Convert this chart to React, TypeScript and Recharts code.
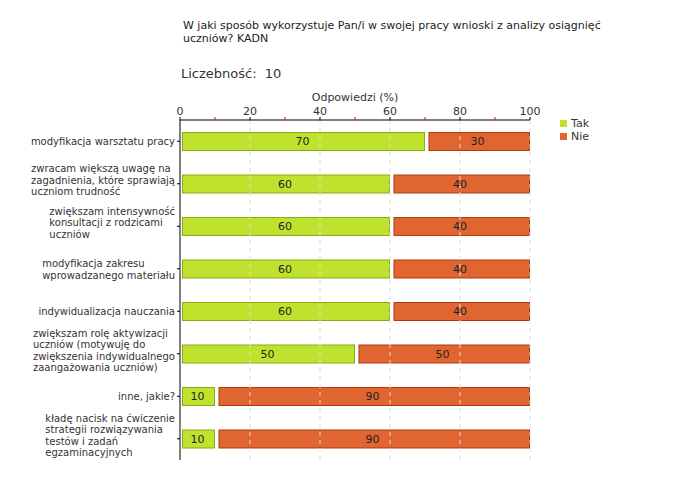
import React from 'react';
import { BarChart, Bar, XAxis, YAxis, ReferenceLine, LabelList, Legend } from 'recharts';

const categories = [
  'modyfikacja warsztatu pracy',
  'zwracam większą uwagę na\nzagadnienia, które sprawiają\nuczniom trudność',
  'zwiększam intensywność\nkonsultacji z rodzicami\nuczniów',
  'modyfikacja zakresu\nwprowadzanego materiału',
  'indywidualizacja nauczania',
  'zwiększam rolę aktywizacji\nuczniów (motywuję do\nzwiększenia indywidualnego\nzaangażowania uczniów)',
  'inne, jakie?',
  'kładę nacisk na ćwiczenie\nstrategii rozwiązywania\ntestów i zadań\negzaminacyjnych',
];
const takValues = [70, 60, 60, 60, 60, 50, 10, 10];
const nieValues = [30, 40, 40, 40, 40, 50, 90, 90];
const xTicks = [0, 10, 20, 30, 40, 50, 60, 70, 80, 90, 100];
const gridTicks = [20, 40, 60, 80, 100];

const FONT = '"DejaVu Sans", Verdana, sans-serif';
const TAK = '#bfe22f';
const TAK_BORDER = '#8aab17';
const NIE = '#e06531';
const NIE_BORDER = '#b03a0c';

const data = categories.map((name, i) => ({ name, tak: takValues[i], nie: nieValues[i] }));

let ctx: CanvasRenderingContext2D | null = null;
const measure = (s: string) => {
  if (!ctx) {
    ctx = document.createElement('canvas').getContext('2d');
    if (ctx) ctx.font = `10px ${FONT}`;
  }
  return ctx ? ctx.measureText(s).width : s.length * 5.5;
};

const CategoryTick = (props: any) => {
  const { x, y, payload } = props;
  const lines = String(payload.value).split('\n');
  const w = Math.max(...lines.map(measure));
  const lh = 11.5;
  const shift = lines.length >= 3 ? -4 : 0;
  const y0 = y - ((lines.length - 1) * lh) / 2 + shift;
  return (
    <text x={x - w} y={y0} fill="#333" fontSize={10} fontFamily={FONT} dominantBaseline="central">
      {lines.map((l, i) => (
        <tspan key={i} x={x - w} y={y0 + i * lh}>{l}</tspan>
      ))}
    </text>
  );
};

const PercentTick = (props: any) => {
  const { x, y, payload } = props;
  const major = payload.value % 20 === 0;
  return (
    <g>
      <line x1={x} x2={x} y1={y - 3} y2={y} stroke={major ? '#000' : '#d00'} />
      {major && (
        <text x={x} y={y - 5} textAnchor="middle" fill="#333" fontSize={11} fontFamily={FONT}>
          {payload.value}
        </text>
      )}
    </g>
  );
};

const TakShape = (p: any) => (
  <rect x={p.x + 2.5} y={p.y + 0.5} width={Math.max(p.width - 3, 0)} height={p.height - 1}
    fill={TAK} stroke={TAK_BORDER} />
);
const NieShape = (p: any) => (
  <rect x={p.x + 4} y={p.y + 0.5} width={Math.max(p.width - 4.5, 0)} height={p.height - 1}
    fill={NIE} stroke={NIE_BORDER} />
);

const LegendBox = () => (
  <div style={{ fontFamily: FONT, fontSize: 11, color: '#333', lineHeight: '13px' }}>
    {[['Tak', TAK], ['Nie', NIE]].map(([n, c]) => (
      <div key={n} style={{ display: 'flex', alignItems: 'center' }}>
        <span style={{ width: 7, height: 7, background: c, marginRight: 4, display: 'inline-block' }} />
        {n}
      </div>
    ))}
  </div>
);

export default function App() {
  return (
    <div style={{ position: 'absolute', left: 0, top: 0, width: 680, height: 480, background: '#fff' }}>
      <div style={{ position: 'absolute', left: 183, top: 19, fontFamily: FONT, fontSize: 11, color: '#222', lineHeight: '13px' }}>
        W jaki sposób wykorzystuje Pan/i w swojej pracy wnioski z analizy osiągnięć<br />uczniów? KADN
      </div>
      <div style={{ position: 'absolute', left: 181, top: 66, fontFamily: FONT, fontSize: 13, color: '#333' }}>
        Liczebność:&nbsp; 10
      </div>
      <BarChart
        width={680}
        height={480}
        data={data}
        layout="vertical"
        barSize={19}
        margin={{ top: 90, right: 90, bottom: 20, left: 3 }}
      >
        <XAxis
          type="number"
          orientation="top"
          domain={[0, 100]}
          ticks={xTicks}
          interval={0}
          height={30}
          tickSize={0}
          tickMargin={0}
          tick={<PercentTick />}
          axisLine={{ stroke: '#000' }}
          label={{ value: 'Odpowiedzi (%)', position: 'insideTop', offset: 3, fill: '#333', fontSize: 11, fontFamily: FONT }}
        />
        <YAxis
          type="category"
          dataKey="name"
          width={177}
          tickSize={3}
          tickMargin={2}
          interval={0}
          tick={<CategoryTick />}
          axisLine={{ stroke: '#000' }}
          tickLine={{ stroke: '#000' }}
        />
        {gridTicks.map(v => (
          <ReferenceLine key={v} x={v} stroke="#dcdcdc" strokeDasharray="4 4" />
        ))}
        <Bar dataKey="tak" name="Tak" stackId="a" fill={TAK} shape={<TakShape />} isAnimationActive={false}>
          <LabelList dataKey="tak" position="center" fill="#222" fontSize={11} fontFamily={FONT} />
        </Bar>
        <Bar dataKey="nie" name="Nie" stackId="a" fill={NIE} shape={<NieShape />} isAnimationActive={false}>
          <LabelList dataKey="nie" position="center" fill="#222" fontSize={11} fontFamily={FONT} />
        </Bar>
        <Legend
          layout="vertical"
          verticalAlign="top"
          align="right"
          content={<LegendBox />}
          wrapperStyle={{ top: 117, left: 560, width: 60 }}
        />
      </BarChart>
    </div>
  );
}
